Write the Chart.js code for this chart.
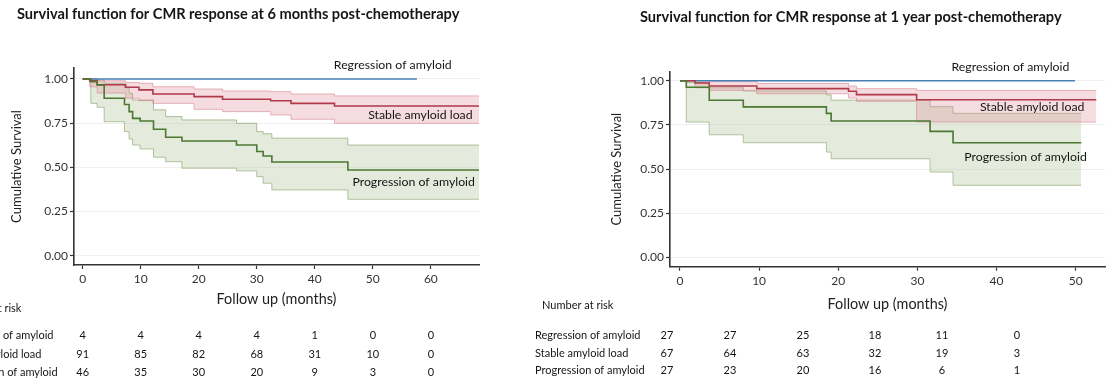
<!DOCTYPE html>
<html>
<head>
<meta charset="utf-8">
<script src="https://cdn.jsdelivr.net/npm/chart.js@4.4.1/dist/chart.umd.min.js"></script>
<style>
	body{margin:0;background:#fff;width:1111px;height:392px;overflow:hidden;position:relative;}
	.panel{position:absolute;top:0;height:392px;}
	#left{left:-60px;width:600px;}
	#right{left:520px;width:591px;}
</style>
</head>
<body>
<div class="panel" id="left"><canvas id="km6" width="600" height="392"></canvas></div>
<div class="panel" id="right"><canvas id="km12" width="591" height="392"></canvas></div>
<script>
/* ---------------- DATA: CMR response at 6 months ---------------- */
const months6Ticks = [0,10,20,30,40,50,60];
const regression6Time = [0, 57.6];
const regression6Surv = [1, 1];
const stable6Time  = [0, 1.2, 2.5, 7.4, 9.7, 12.1, 19.2, 24.1, 32.4, 35.9, 43.4, 68.5];
const stable6Surv  = [1, 0.989, 0.967, 0.953, 0.938, 0.915, 0.900, 0.885, 0.877, 0.862, 0.847, 0.847];
const stable6Upper = [1, 1, 0.99, 0.98, 0.976, 0.956, 0.943, 0.932, 0.928, 0.915, 0.904, 0.904];
const stable6Lower = [1, 0.955, 0.92, 0.891, 0.877, 0.862, 0.828, 0.815, 0.796, 0.772, 0.749, 0.749];
const progression6Time  = [0, 1.4, 2.5, 3.7, 7.2, 8.0, 8.6, 9.9, 12.2, 14.3, 17.1, 26.5, 30.0, 31.1, 32.6, 45.7, 68.5];
const progression6Surv  = [1, 0.985, 0.966, 0.891, 0.855, 0.815, 0.777, 0.762, 0.715, 0.67, 0.649, 0.626, 0.589, 0.564, 0.53, 0.485, 0.485];
const progression6Upper = [1, 1, 0.995, 0.976, 0.95, 0.92, 0.881, 0.881, 0.825, 0.787, 0.768, 0.749, 0.702, 0.69, 0.665, 0.626, 0.626];
const progression6Lower = [1, 0.862, 0.84, 0.758, 0.702, 0.66, 0.626, 0.604, 0.557, 0.532, 0.495, 0.48, 0.447, 0.41, 0.372, 0.319, 0.319];

const riskTimes6 = [0,10,20,30,40,50,60];
const riskRegression6  = [4,4,4,4,1,0,0];
const riskStable6      = [91,85,82,68,31,10,0];
const riskProgression6 = [46,35,30,20,9,3,0];

/* ---------------- DATA: CMR response at 1 year ---------------- */
const months12Ticks = [0,10,20,30,40,50];
const regression12Time = [0, 49.9];
const regression12Surv = [1, 1];
const stable12Time  = [0, 1.9, 3.7, 9.7, 21.3, 22.3, 29.9, 52.6];
const stable12Surv  = [1, 0.987, 0.97, 0.955, 0.94, 0.921, 0.892, 0.892];
const stable12Upper = [1, 1, 0.995, 0.985, 0.97, 0.955, 0.945, 0.945];
const stable12Lower = [1, 0.96, 0.945, 0.926, 0.902, 0.883, 0.766, 0.766];
const progression12Time  = [0, 0.8, 3.7, 8.0, 18.5, 19.1, 31.6, 34.5, 50.7];
const progression12Surv  = [1, 0.963, 0.889, 0.852, 0.815, 0.772, 0.713, 0.649, 0.649];
const progression12Upper = [1, 0.99, 0.96, 0.942, 0.92, 0.89, 0.853, 0.815, 0.815];
const progression12Lower = [1, 0.766, 0.694, 0.649, 0.596, 0.558, 0.483, 0.408, 0.408];

const riskRegression12  = [27,27,25,18,11,0];
const riskStable12      = [67,64,63,32,19,3];
const riskProgression12 = [27,23,20,16,6,1];

const groupNames = ['Regression of amyloid','Stable amyloid load','Progression of amyloid'];
const survTicks = [0,0.25,0.5,0.75,1];

/* ---------------- STYLE ---------------- */
const BLUE = '#4a7fb5', RED = '#b03a4a', GREEN = '#4d7832';
const PINK_FILL = 'rgba(222,140,152,0.30)', PINK_EDGE = 'rgba(214,120,135,0.55)';
const GREEN_FILL = 'rgba(170,190,145,0.32)', GREEN_EDGE = 'rgba(125,155,95,0.60)';
const FONT = "Lato, 'Open Sans', sans-serif";

Chart.defaults.font.family = FONT;
Chart.defaults.color = '#222';

function pts(times, vals)
{
	return times.map(function(t,i){ return {x:t, y:vals[i]}; });
}

// KM step: value holds until the next event time, then drops (stepped:true = horizontal first)
function curve(times, surv, color)
{
	return { data:pts(times,surv), borderColor:color, borderWidth:1.6, stepped:true, pointRadius:0, fill:false, order:0 };
}

// upper edge is filled down to the lower edge right after it
function band(times, upper, lower, edge, fillColor, order)
{
	return [
		{ data:pts(times,upper), borderColor:edge, borderWidth:1, stepped:true, pointRadius:0, fill:'+1', backgroundColor:fillColor, order:order },
		{ data:pts(times,lower), borderColor:edge, borderWidth:1, stepped:true, pointRadius:0, fill:false, order:order }
	];
}

// titles, curve names and number-at-risk table
function kmExtras(p)
{
	return {
		id:'kmExtras',
		afterDraw: function(chart)
		{
			var ctx = chart.ctx, xs = chart.scales.x, ys = chart.scales.y;
			ctx.save();
			ctx.fillStyle = '#151515';
			ctx.textBaseline = 'middle';

			ctx.font = 'bold 14.6px ' + FONT;
			ctx.textAlign = 'left';
			ctx.fillText(p.title, p.titleX, p.titleY);

			ctx.font = '12.3px ' + FONT;
			ctx.textAlign = 'right';
			p.curveLabels.forEach(function(l){
				ctx.fillText(l.text, xs.getPixelForValue(l.t), ys.getPixelForValue(l.s));
			});

			ctx.font = '11px ' + FONT;
			ctx.textAlign = 'left';
			ctx.fillText('Number at risk', p.headerX, p.headerY);
			p.risk.forEach(function(row,i){
				ctx.textAlign = 'left';
				ctx.fillText(groupNames[i], p.labelX, p.rowY[i]);
				ctx.textAlign = 'center';
				row.forEach(function(n,j){
					var cx = p.colTimes ? xs.getPixelForValue(p.colTimes[j]) : p.colPx[j];
					ctx.fillText(String(n), cx, p.rowY[i]);
				});
			});
			ctx.restore();
		}
	};
}

function KMChartCreator(canvasId, p)
{
	var datasets = []
		.concat(band(p.progression.time, p.progression.upper, p.progression.lower, GREEN_EDGE, GREEN_FILL, 2))
		.concat(band(p.stable.time, p.stable.upper, p.stable.lower, PINK_EDGE, PINK_FILL, 1))
		.concat([
			curve(p.progression.time, p.progression.surv, GREEN),
			curve(p.stable.time, p.stable.surv, RED),
			curve(p.regression.time, p.regression.surv, BLUE)
		]);

	return new Chart(document.getElementById(canvasId), {
		type:'line',
		data:{ datasets:datasets },
		options:{
			responsive:false,
			animation:false,
			events:[],
			layout:{ padding:{ top:p.padTop, bottom:p.padBottom, left:0, right:p.padRight } },
			plugins:{ legend:{display:false}, tooltip:{enabled:false}, title:{display:false} },
			scales:{
				x:{
					type:'linear', min:p.xMin, max:p.xMax,
					afterBuildTicks: function(s){ s.ticks = p.xTicks.map(function(v){ return {value:v}; }); },
					afterFit: function(s){ s.height = p.xAxisH; },
					grid:{ drawOnChartArea:false, drawTicks:true, tickLength:4, tickColor:'#333', tickWidth:1.2 },
					border:{ color:'#333', width:1.6 },
					ticks:{ color:'#333', font:{size:12}, padding:3, maxRotation:0, autoSkip:false },
					title:{ display:true, text:'Follow up (months)', color:'#222', font:{size:14.4}, padding:{top:0,bottom:0} }
				},
				y:{
					type:'linear', min:p.yMin, max:p.yMax,
					afterBuildTicks: function(s){ s.ticks = survTicks.map(function(v){ return {value:v}; }); },
					afterFit: function(s){ s.width = p.yAxisW; },
					grid:{ color:'#efefef', tickColor:'#333', tickLength:4, tickWidth:1.2 },
					border:{ color:'#333', width:1.6 },
					ticks:{ color:'#333', font:{size:12}, padding:2, callback:function(v){ return Number(v).toFixed(2); } },
					title:{ display:true, text:'Cumulative Survival', color:'#222', font:{size:13}, padding:{top:p.yTitlePad,bottom:0} }
				}
			}
		},
		plugins:[kmExtras(p)]
	});
}

/* left panel: canvas starts 60px left of the page, the table labels get cut like the source */
KMChartCreator('km6', {
	xMin:-1.5, xMax:68.3, yMin:-0.053, yMax:1.062, xTicks:months6Ticks,
	padTop:68, padBottom:83.6, padRight:61, yAxisW:134, xAxisH:43.4, yTitlePad:69,
	regression:{ time:regression6Time, surv:regression6Surv },
	stable:{ time:stable6Time, surv:stable6Surv, upper:stable6Upper, lower:stable6Lower },
	progression:{ time:progression6Time, surv:progression6Surv, upper:progression6Upper, lower:progression6Lower },
	title:'Survival function for CMR response at 6 months post-chemotherapy', titleX:77, titleY:14,
	curveLabels:[
		{ text:groupNames[0], t:63.6, s:1.079 },
		{ text:groupNames[1], t:67.2, s:0.796 },
		{ text:groupNames[2], t:67.6, s:0.419 }
	],
	headerX:10, headerY:308, labelX:8, rowY:[335,354,372],
	risk:[riskRegression6, riskStable6, riskProgression6], colTimes:riskTimes6
});

KMChartCreator('km12', {
	xMin:-1.26, xMax:53.7, yMin:-0.053, yMax:1.051, xTicks:months12Ticks,
	padTop:71.7, padBottom:78.6, padRight:6, yAxisW:150, xAxisH:46.7, yTitlePad:89.5,
	regression:{ time:regression12Time, surv:regression12Surv },
	stable:{ time:stable12Time, surv:stable12Surv, upper:stable12Upper, lower:stable12Lower },
	progression:{ time:progression12Time, surv:progression12Surv, upper:progression12Upper, lower:progression12Lower },
	title:'Survival function for CMR response at 1 year post-chemotherapy', titleX:120, titleY:17,
	curveLabels:[
		{ text:groupNames[0], t:49.2, s:1.079 },
		{ text:groupNames[1], t:51.1, s:0.853 },
		{ text:groupNames[2], t:51.4, s:0.566 }
	],
	headerX:22, headerY:305, labelX:15, rowY:[335,353,370],
	risk:[riskRegression12, riskStable12, riskProgression12], colPx:[147,210,283,355,422,497]
});
</script>
</body>
</html>
